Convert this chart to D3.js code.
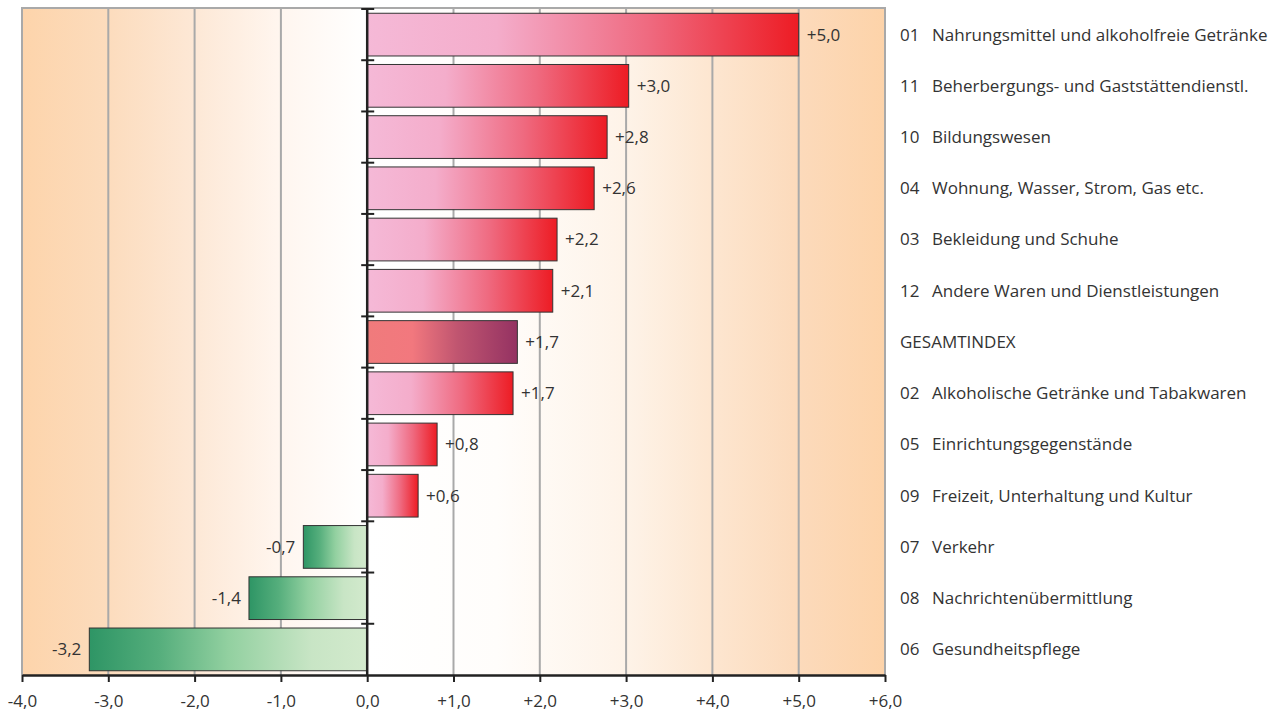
<!DOCTYPE html>
<html>
<head>
<meta charset="utf-8">
<script src="https://cdn.jsdelivr.net/npm/d3@7"></script>
<style>
  body { margin: 0; background: #fff; }
  text { font-family: "Open Sans", sans-serif; fill: #333; }
</style>
</head>
<body>
<svg id="chart" width="1282" height="716"></svg>
<script>
// categories, top to bottom
const codes = ["01", "11", "10", "04", "03", "12", "", "02", "05", "09", "07", "08", "06"];
const names = [
  "Nahrungsmittel und alkoholfreie Getränke",
  "Beherbergungs- und Gaststättendienstl.",
  "Bildungswesen",
  "Wohnung, Wasser, Strom, Gas etc.",
  "Bekleidung und Schuhe",
  "Andere Waren und Dienstleistungen",
  "GESAMTINDEX",
  "Alkoholische Getränke und Tabakwaren",
  "Einrichtungsgegenstände",
  "Freizeit, Unterhaltung und Kultur",
  "Verkehr",
  "Nachrichtenübermittlung",
  "Gesundheitspflege"
];
// change in % (bar lengths) and printed labels
const values = [5.0, 3.03, 2.78, 2.63, 2.2, 2.15, 1.74, 1.69, 0.81, 0.59, -0.74, -1.37, -3.22];
const valueLabels = ["+5,0", "+3,0", "+2,8", "+2,6", "+2,2", "+2,1", "+1,7", "+1,7", "+0,8", "+0,6", "-0,7", "-1,4", "-3,2"];
const xTicks = [-4, -3, -2, -1, 0, 1, 2, 3, 4, 5, 6];
const totalName = "GESAMTINDEX";

const svg = d3.select("#chart");
const x = d3.scaleLinear().domain([-4, 6]).range([22, 885]);
const y = d3.scaleBand().domain(d3.range(names.length)).range([9, 675])
  .paddingInner(0.166).paddingOuter(0.083);
const fs = 17;

const defs = svg.append("defs");
// background: orange at both ends, white at zero
const bg = defs.append("linearGradient").attr("id", "bg")
  .attr("gradientUnits", "userSpaceOnUse")
  .attr("x1", x(-4)).attr("x2", x(6)).attr("y1", 0).attr("y2", 0);
[[-4, "#fdd4ab"], [-3, "#fcdcbd"], [-2, "#fde8d6"], [-1, "#fff6ef"], [0, "#ffffff"],
 [1.5, "#fffdfb"], [3, "#fef3e8"], [4, "#fde6d0"], [5, "#fcdabb"], [6, "#fdd3a9"]]
  .forEach(([v, c]) => bg.append("stop").attr("offset", (v + 4) / 10).attr("stop-color", c));

function grad(id, stops) {
  const g = defs.append("linearGradient").attr("id", id).attr("x1", 0).attr("x2", 1).attr("y1", 0).attr("y2", 0);
  stops.forEach(([o, c]) => g.append("stop").attr("offset", o).attr("stop-color", c));
}
grad("pos", [[0, "#f5b9d7"], [0.3, "#f4adcb"], [0.65, "#ef6a80"], [1, "#ed1c24"]]);
grad("neg", [[0, "#2e9565"], [0.25, "#55ae7c"], [0.5, "#92d0a0"], [0.8, "#c8e5c5"], [1, "#d3eacd"]]);
grad("tot", [[0, "#f07b7c"], [0.3, "#f2787e"], [0.6, "#c05570"], [1, "#943262"]]);

svg.append("rect").attr("x", x(-4)).attr("y", 9).attr("width", x(6) - x(-4)).attr("height", 675 - 9)
  .attr("fill", "url(#bg)");

// vertical grid lines and frame
svg.append("g").selectAll("line").data(xTicks.filter(d => d !== 0)).join("line")
  .attr("x1", d => x(d)).attr("x2", d => x(d)).attr("y1", 8).attr("y2", 675)
  .attr("stroke", "#a9a9a9").attr("stroke-width", 2);
svg.append("line").attr("x1", x(-4) - 1).attr("x2", x(6) + 1).attr("y1", 8).attr("y2", 8)
  .attr("stroke", "#a9a9a9").attr("stroke-width", 2);

// bars
svg.append("g").selectAll("rect").data(values).join("rect")
  .attr("x", d => x(Math.min(0, d)))
  .attr("y", (d, i) => y(i))
  .attr("width", d => Math.abs(x(d) - x(0)))
  .attr("height", y.bandwidth())
  .attr("fill", (d, i) => names[i] === totalName ? "url(#tot)" : d < 0 ? "url(#neg)" : "url(#pos)")
  .attr("stroke", "#333").attr("stroke-width", 1);

// value labels
svg.append("g").selectAll("text").data(values).join("text")
  .attr("x", d => d < 0 ? x(d) - 8 : x(d) + 8)
  .attr("y", (d, i) => y(i) + y.bandwidth() / 2)
  .attr("dy", "0.35em")
  .attr("text-anchor", d => d < 0 ? "end" : "start")
  .attr("font-size", fs)
  .text((d, i) => valueLabels[i]);

// zero axis with band ticks
const yAxis = svg.append("g");
yAxis.append("line").attr("x1", x(0)).attr("x2", x(0)).attr("y1", 9).attr("y2", 676)
  .attr("stroke", "#222").attr("stroke-width", 2.5);
yAxis.selectAll("line.t").data(d3.range(names.length)).join("line").attr("class", "t")
  .attr("x1", x(0) - 6).attr("x2", x(0) + 7)
  .attr("y1", i => y(i) - y.step() * y.paddingInner() / 2)
  .attr("y2", i => y(i) - y.step() * y.paddingInner() / 2)
  .attr("stroke", "#222").attr("stroke-width", 2);

// bottom axis
const xAxis = svg.append("g").attr("transform", "translate(0,675)")
  .call(d3.axisBottom(x).tickValues(xTicks).tickSize(7).tickSizeOuter(0)
    .tickFormat(d => (d > 0 ? "+" : d < 0 ? "-" : "") + Math.abs(d).toFixed(1).replace(".", ",")));
xAxis.select(".domain").attr("stroke", "#222").attr("stroke-width", 2.5);
xAxis.selectAll(".tick line").attr("stroke", "#222").attr("stroke-width", 2);
xAxis.selectAll(".tick text").attr("font-size", fs).attr("font-family", "Open Sans, sans-serif")
  .attr("fill", "#333").attr("y", 20);

// category labels
const lab = svg.append("g");
lab.selectAll("text.code").data(codes).join("text").attr("class", "code")
  .attr("x", 900).attr("y", (d, i) => y(i) + y.bandwidth() / 2).attr("dy", "0.35em")
  .attr("font-size", fs).text(d => d);
lab.selectAll("text.name").data(names).join("text").attr("class", "name")
  .attr("x", (d, i) => codes[i] ? 932 : 900)
  .attr("y", (d, i) => y(i) + y.bandwidth() / 2).attr("dy", "0.35em")
  .attr("font-size", fs).text(d => d);
</script>
</body>
</html>
